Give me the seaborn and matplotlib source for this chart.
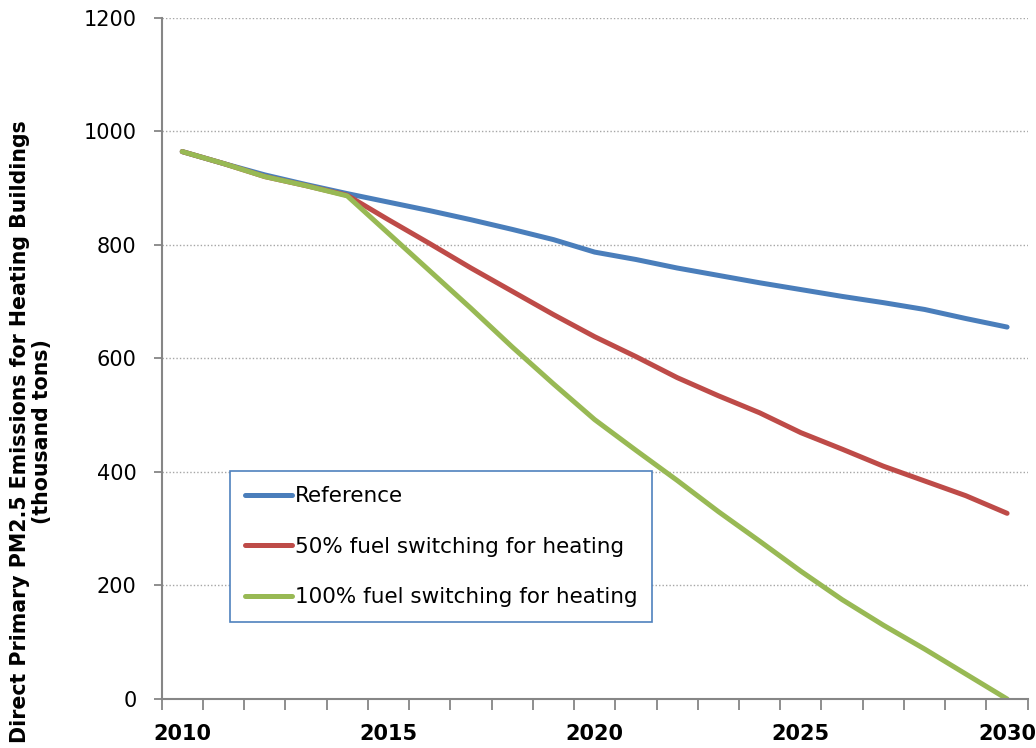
import numpy as np
import pandas as pd
import matplotlib
matplotlib.use("Agg")
import matplotlib.pyplot as plt
from matplotlib.ticker import MultipleLocator, FixedLocator
import seaborn as sns

# data (thousand tons)
years = list(range(2010, 2031))
reference = [964, 943, 923, 906, 890, 875, 860, 844, 827, 809, 787,
             774, 759, 746, 733, 721, 709, 698, 686, 670, 655]
fuel_50 = [964, 943, 920, 904, 887, 844, 802, 759, 718, 677, 638,
           603, 566, 534, 504, 469, 440, 410, 384, 358, 327]
fuel_100 = [964, 943, 920, 904, 886, 820, 754, 688, 620, 555, 492,
            438, 385, 330, 278, 225, 175, 130, 88, 44, 0]

series_names = ["Reference", "50% fuel switching for heating", "100% fuel switching for heating"]
colors = ["#4A7EBB", "#BE4B48", "#98B954"]

df = pd.DataFrame({
    "year": years * 3,
    "value": reference + fuel_50 + fuel_100,
    "scenario": [series_names[0]] * len(years) + [series_names[1]] * len(years) + [series_names[2]] * len(years),
})

sns.set_style("white")
plt.rcParams["font.family"] = ["DejaVu Sans"]
plt.rcParams["text.color"] = "black"
plt.rcParams["axes.labelcolor"] = "black"

fig = plt.figure(figsize=(10.36, 7.48), dpi=100)
ax = fig.add_axes([0.156, 0.0655, 0.836, 0.911])

sns.lineplot(data=df, x="year", y="value", hue="scenario", hue_order=series_names,
             palette=colors, linewidth=3.6, ax=ax, legend=True,
             solid_capstyle="round", solid_joinstyle="round")

ax.set_xlim(2009.5, 2030.5)
ax.set_ylim(0, 1200)

# y axis
ax.yaxis.set_major_locator(MultipleLocator(200))
ax.grid(axis="y", linestyle=(0, (1, 1.5)), color="#A6A6A6", linewidth=1.0)
ax.tick_params(axis="y", which="major", direction="out", length=6, width=1.3,
               color="#868686", labelsize=15, pad=12, left=True, labelcolor="black")

# x axis: labels every 5 years, tick marks between categories
ax.xaxis.set_major_locator(FixedLocator([2010, 2015, 2020, 2025, 2030]))
ax.xaxis.set_minor_locator(FixedLocator(np.arange(2009.5, 2031, 1.0)))
ax.tick_params(axis="x", which="major", length=0, labelsize=15, pad=18, labelcolor="black")
ax.tick_params(axis="x", which="minor", direction="out", length=8, width=1.3,
               color="#868686", bottom=True)
for lbl in ax.get_xticklabels():
    lbl.set_fontweight("bold")

for side in ["top", "right"]:
    ax.spines[side].set_visible(False)
for side in ["left", "bottom"]:
    ax.spines[side].set_color("#868686")
    ax.spines[side].set_linewidth(1.5)

ax.set_xlabel("")
ax.set_ylabel("Direct Primary PM2.5 Emissions for Heating Buildings\n(thousand tons)",
              fontsize=14.8, fontweight="bold", linespacing=1.15, color="black")
ax.yaxis.label.set_verticalalignment("center")
ax.yaxis.set_label_coords(-0.151, 0.392)

leg = ax.legend(loc="upper left", bbox_to_anchor=(0.079, 0.3346), fontsize=15.5,
                frameon=True, fancybox=False, framealpha=1, edgecolor="#4F81BD",
                handlelength=2.2, handletextpad=0.1, labelspacing=1.42,
                borderpad=0.7, borderaxespad=0)
leg.get_frame().set_linewidth(1.2)
for line in leg.get_lines():
    line.set_linewidth(3.6)
for txt in leg.get_texts():
    txt.set_color("black")

fig.savefig("out.png", dpi=100)
